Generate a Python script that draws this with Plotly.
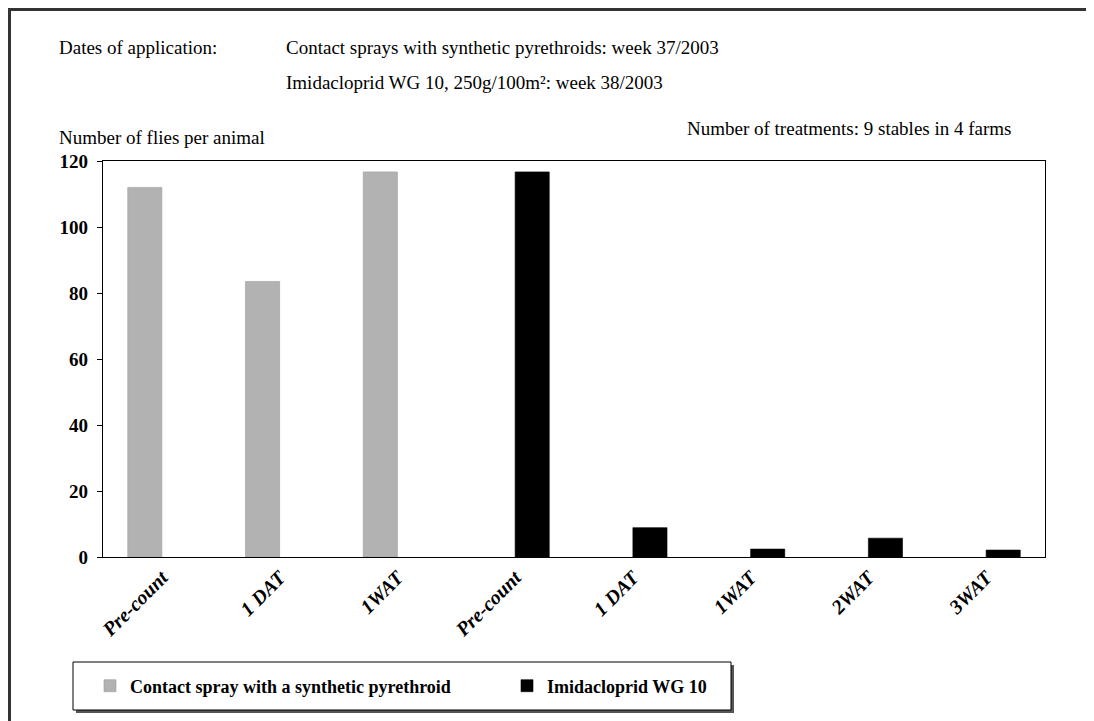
import plotly.graph_objects as go

tick_labels = ["Pre-count", "1 DAT", "1WAT", "Pre-count", "1 DAT", "1WAT", "2WAT", "3WAT"]
pyrethroid_x = [0, 1, 2]
pyrethroid_vals = [112.0, 83.5, 116.7]
imidacloprid_x = [3, 4, 5, 6, 7]
imidacloprid_vals = [116.7, 8.9, 2.4, 5.7, 2.1]

FONT = "Times New Roman, Liberation Serif, serif"
W, H = 1094, 721
OFF = 8  # page body margin
L, R, T, B = 95, 57, 153, 172
pw, ph = W - L - R, H - T - B

def fx(x):  # page px -> paper
    return (x - OFF - L) / pw

def fy(y):
    return (OFF + H - B - y) / ph

BAR_W = 0.29

fig = go.Figure()
fig.add_trace(go.Bar(
    x=pyrethroid_x, y=pyrethroid_vals, name="Contact spray with a synthetic pyrethroid",
    width=BAR_W, offset=-BAR_W,
    marker=dict(color="#b2b2b2", line=dict(color="#9c9c9c", width=0.6)),
))
fig.add_trace(go.Bar(
    x=imidacloprid_x, y=imidacloprid_vals, name="Imidacloprid WG 10",
    width=BAR_W, offset=0,
    marker=dict(color="#000000", line=dict(color="#000000", width=0.6)),
))

fig.update_layout(
    width=W, height=H,
    margin=dict(l=L, r=R, t=T, b=B, pad=0),
    paper_bgcolor="white", plot_bgcolor="white",
    barmode="overlay",
    font=dict(family=FONT, color="black", size=18),
    showlegend=True,
    legend=dict(
        orientation="h", x=fx(90), y=fy(686), xanchor="left", yanchor="middle",
        borderwidth=0, bgcolor="rgba(0,0,0,0)",
        font=dict(family=FONT, size=18, color="black", weight="bold"),
        entrywidth=372, itemwidth=30, traceorder="normal",
    ),
    xaxis=dict(
        range=[-0.5, 7.5], tickmode="array", tickvals=list(range(8)), ticktext=tick_labels,
        tickangle=-45, showline=True, linecolor="black", linewidth=1.2, mirror=True,
        ticks="", showgrid=False, zeroline=False,
        tickfont=dict(family=FONT, size=20, color="black", weight="bold", style="italic"),
    ),
    yaxis=dict(
        range=[0, 120], dtick=20, tick0=0, showline=True, linecolor="black", linewidth=1.2,
        mirror=True, ticks="outside", ticklen=5, tickcolor="black", showgrid=False,
        zeroline=False, ticklabelstandoff=5,
        tickfont=dict(family=FONT, size=19, color="black", weight="bold"),
    ),
)

ann = [
    ("Dates of application:", 58, 47, "left"),
    ("Contact sprays with synthetic pyrethroids: week 37/2003", 285, 47, "left"),
    ("Imidacloprid WG 10, 250g/100m²: week 38/2003", 285, 82, "left"),
    ("Number of flies per animal", 58, 137, "left"),
    ("Number of treatments: 9 stables in 4 farms", 1013, 128, "right"),
]
for text, x, y, anchor in ann:
    fig.add_annotation(text=text, x=fx(x), y=fy(y), xref="paper", yref="paper",
                       xanchor=anchor, yanchor="middle", showarrow=False, borderpad=0,
                       font=dict(family=FONT, size=19, color="black"))

# legend frame with shadow
fig.add_shape(type="rect", xref="paper", yref="paper", x0=fx(76), x1=fx(734), y0=fy(713), y1=fy(665),
              line=dict(width=0), fillcolor="#555555", layer="below")
fig.add_shape(type="rect", xref="paper", yref="paper", x0=fx(73), x1=fx(731), y0=fy(710), y1=fy(662),
              line=dict(color="black", width=1), fillcolor="white", layer="below")

# outer frame (top and left visible, as in the reference)
fig.add_shape(type="line", xref="paper", yref="paper", x0=fx(8), x1=fx(1110), y0=fy(9.5), y1=fy(9.5),
              line=dict(color="#333333", width=3))
fig.add_shape(type="line", xref="paper", yref="paper", x0=fx(9.5), x1=fx(9.5), y0=fy(8), y1=fy(740),
              line=dict(color="#333333", width=3))

fig.write_html("out.html")
